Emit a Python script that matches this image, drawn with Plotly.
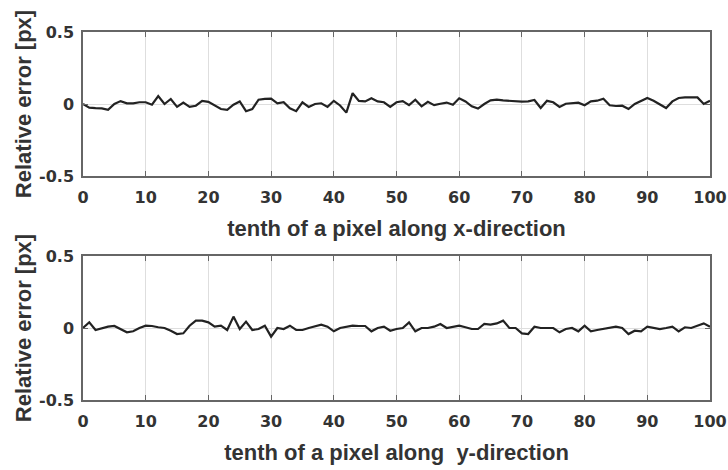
import plotly.graph_objects as go
from plotly.subplots import make_subplots

# sample position in tenths of a pixel
positions = list(range(0, 101))

# relative error along the x-direction [px]
err_x = [0.000, -0.025, -0.028, -0.030, -0.040, 0.000, 0.020, 0.005, 0.005, 0.012, 0.012,
         -0.005, 0.055, 0.000, 0.035, -0.020, 0.010, -0.020, -0.012, 0.022, 0.015,
         -0.010, -0.035, -0.040, -0.005, 0.018, -0.050, -0.035, 0.030, 0.035, 0.037,
         0.005, 0.012, -0.030, -0.050, 0.012, -0.020, 0.000, 0.005, -0.020, 0.022,
         -0.010, -0.060, 0.075, 0.022, 0.018, 0.040, 0.018, 0.012, -0.020, 0.012,
         0.020, -0.008, 0.030, -0.016, 0.015, -0.008, 0.002, 0.010, -0.005, 0.040,
         0.018, -0.016, -0.032, 0.000, 0.025, 0.030, 0.025, 0.023, 0.016, 0.016,
         0.018, 0.028, -0.028, 0.022, 0.012, -0.020, 0.002, 0.004, 0.009, -0.009,
         0.018, 0.023, 0.037, -0.009, -0.014, -0.012, -0.035, 0.000, 0.023, 0.042,
         0.023, 0.000, -0.028, 0.018, 0.042, 0.046, 0.046, 0.046, 0.000, 0.023]

# relative error along the y-direction [px]
err_y = [0.000, 0.040, -0.014, 0.000, 0.009, 0.014, -0.007, -0.030, -0.023, 0.000, 0.016,
         0.014, 0.005, 0.000, -0.019, -0.042, -0.037, 0.016, 0.051, 0.051, 0.039,
         0.009, 0.016, -0.014, 0.079, -0.007, 0.044, -0.014, -0.007, 0.016, -0.060,
         0.000, -0.007, 0.016, -0.014, -0.014, 0.000, 0.014, 0.023, 0.009, -0.023,
         0.000, 0.009, 0.016, 0.014, 0.014, -0.023, 0.000, 0.009, -0.019, -0.007,
         0.000, 0.039, -0.023, 0.000, 0.000, 0.009, 0.028, 0.000, 0.009, 0.016,
         0.005, -0.007, -0.007, 0.028, 0.023, 0.032, 0.051, 0.000, 0.000, -0.037,
         -0.042, 0.009, 0.000, 0.000, 0.000, -0.030, -0.007, 0.000, -0.023, 0.016,
         -0.023, -0.014, -0.007, 0.005, 0.009, 0.000, -0.042, -0.019, -0.023, 0.009,
         0.000, -0.007, 0.000, 0.009, -0.023, 0.005, 0.000, 0.016, 0.032, 0.009]

y_ticks = [-0.5, 0, 0.5]
y_tick_text = ["-0.5", "0", "0.5"]
x_ticks = list(range(0, 101, 10))

fig = make_subplots(rows=2, cols=1, vertical_spacing=80 / 368)

for row, series in ((1, err_x), (2, err_y)):
    fig.add_trace(
        go.Scatter(x=positions, y=series, mode="lines",
                   line=dict(color="#222222", width=2.2), showlegend=False),
        row=row, col=1,
    )

title_family = "Liberation Sans, Arial, sans-serif"
tick_family = "DejaVu Sans, sans-serif"
text_color = "#333333"
axis_common = dict(
    showline=True, linecolor="#666666", linewidth=1.5, mirror="ticks",
    ticks="inside", ticklen=5, tickcolor="#666666",
    showgrid=True, gridcolor="#dedede", gridwidth=1, zeroline=False,
    automargin=False,
    tickfont=dict(family=tick_family, size=16, color=text_color, weight="bold"),
)

for row, title in ((1, "tenth of a pixel along x-direction"),
                   (2, "tenth of a pixel along  y-direction")):
    fig.update_xaxes(
        range=[0, 100], tickvals=x_ticks, ticklabelstandoff=6,
        title=dict(text=title, standoff=15,
                   font=dict(family=title_family, size=22, color=text_color, weight="bold")),
        row=row, col=1, **axis_common,
    )
    fig.update_yaxes(
        range=[-0.5, 0.5], tickvals=y_ticks, ticktext=y_tick_text, ticklabelstandoff=4,
        title=dict(text="Relative error [px]", standoff=1,
                   font=dict(family=title_family, size=22, color=text_color, weight="bold")),
        row=row, col=1, **axis_common,
    )

fig.update_layout(
    width=728, height=470,
    margin=dict(l=83, r=18, t=32, b=70),
    paper_bgcolor="white", plot_bgcolor="white",
)

fig.write_html("out.html")
